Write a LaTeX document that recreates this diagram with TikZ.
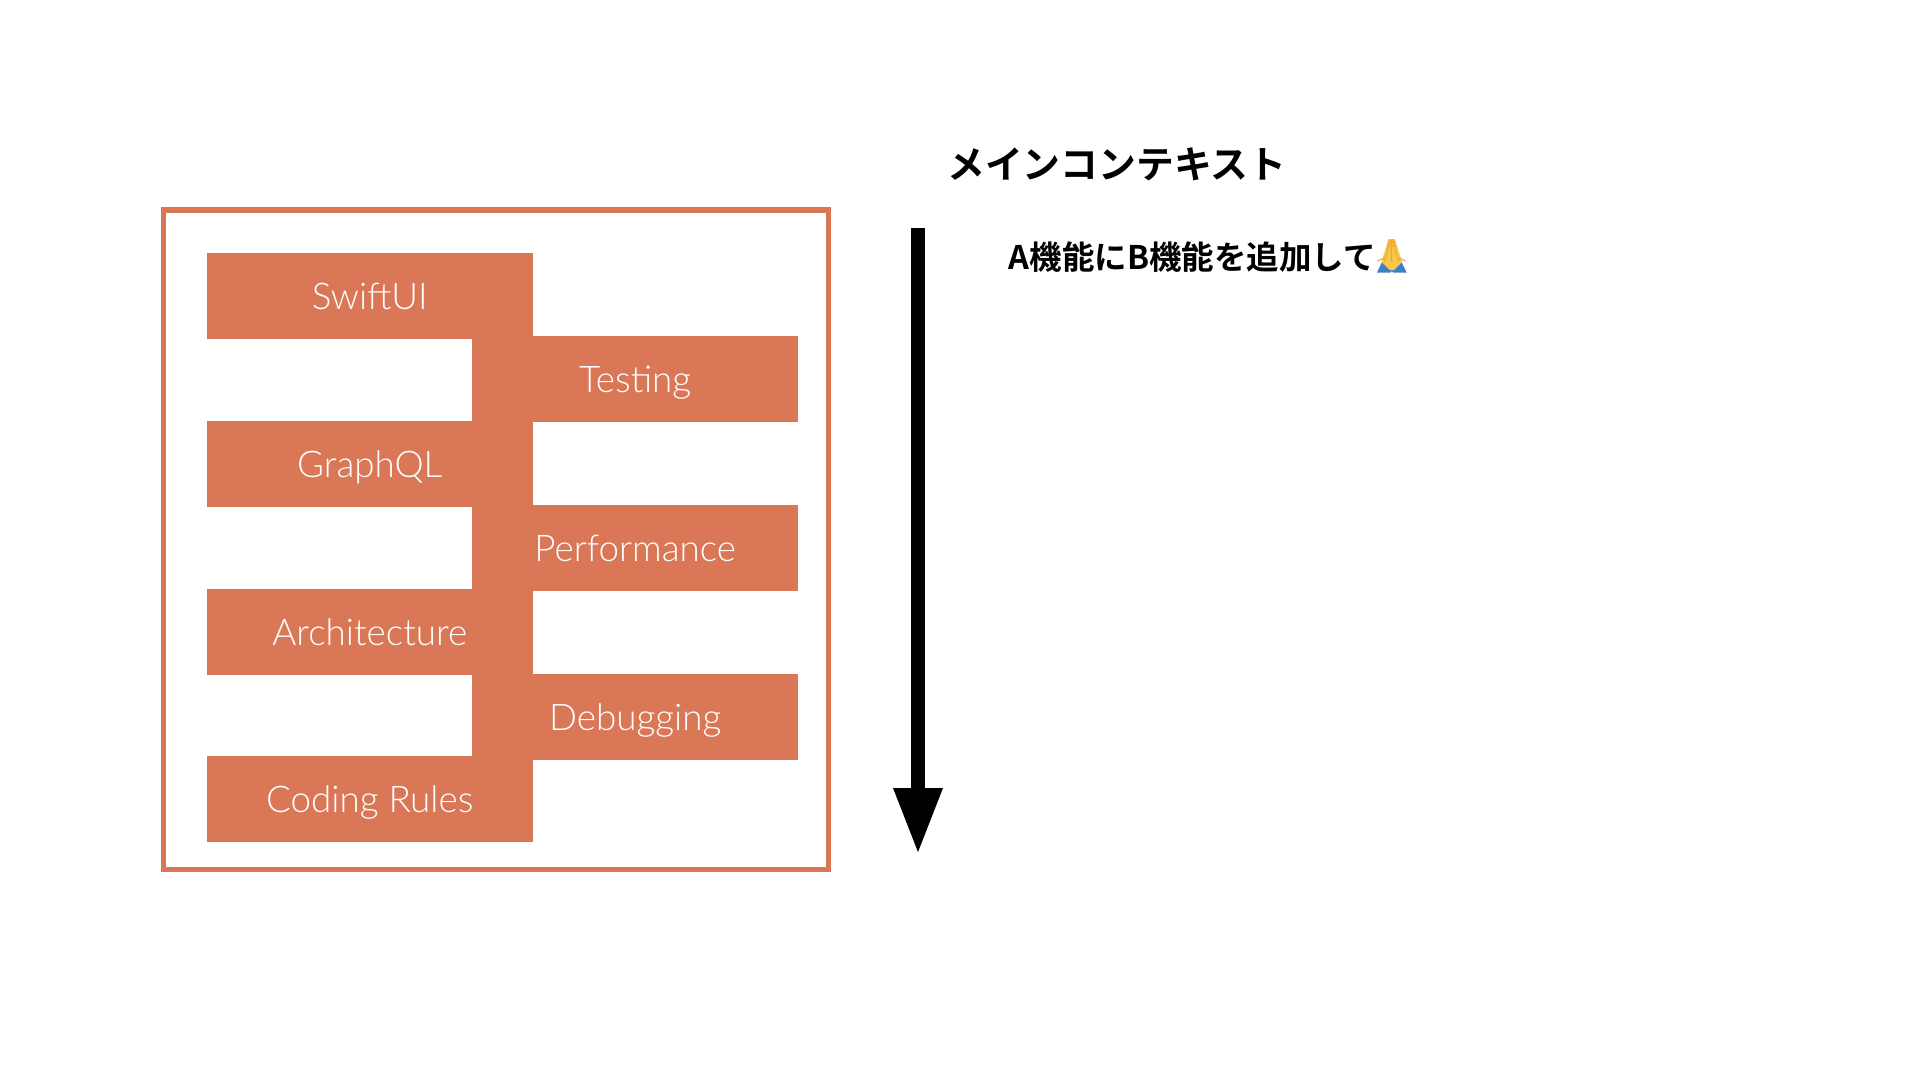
\documentclass[tikz,border=0pt]{standalone}
\usepackage{fontspec}
\setmainfont{Lato Light}
\newfontfamily\cjkbold{Noto Sans CJK JP Bold}
\newfontfamily\emojifont{Noto Emoji}
\definecolor{clay}{HTML}{D97757}
\definecolor{prayer}{HTML}{F9C84A}
\definecolor{prayerline}{HTML}{EFA63A}
\definecolor{sleeve}{HTML}{3F7FC4}
\tikzset{
  block/.style={fill=clay,text=white,inner sep=0pt,minimum width=326pt,minimum height=86pt,text height=27pt,text depth=0pt,font=\fontsize{36.8}{44}\selectfont},
  frame/.style={draw=clay,line width=5.5pt,fill=white,inner sep=0pt,minimum width=665pt,minimum height=659.5pt},
  heading/.style={inner sep=0pt,anchor=west,font=\cjkbold\fontsize{37.8}{45}\selectfont},
  note/.style={inner sep=0pt,anchor=west,font=\cjkbold\fontsize{32.5}{40}\selectfont}
}
\begin{document}
\begin{tikzpicture}[x=1pt,y=-1pt]
\useasboundingbox (0,0) rectangle (1920,1080);
\fill[white] (0,0) rectangle (1920,1080);
\node[frame] (box) at (496,539.8) {};
\node[block] (swift) at (369.7,295.5) {SwiftUI};
\node[block] (test) at (635.2,378.5) {Testing};
\node[block] (graph) at (369.7,463.5) {GraphQL};
\node[block] (perf) at (635.2,547.5) {Performance};
\node[block] (arch) at (369.7,631.5) {Architecture};
\node[block] (debug) at (635.2,717) {Debugging};
\node[block] (coding) at (369.7,799) {Coding Rules};
\coordinate (start) at (918,228);
\coordinate (neck) at (918,788);
\coordinate (tip) at (918,852);
\coordinate (headl) at (893,788);
\coordinate (headr) at (943,788);
\draw[line width=14pt] (start) -- (neck);
\fill (headl) -- (headr) -- (tip) -- cycle;
\node[heading] (title) at (947,164) {メインコンテキスト};
\node[note] (req) at (1008.5,257) {A機能にB機能を追加して};
% praying-hands emoji: coloured underlay, glyph on top
\fill[sleeve] (1377,272.5) -- (1383,260) -- (1391.7,269) -- (1400.5,260) -- (1406.7,272.5) -- (1393,272.5) -- (1391.7,271) -- (1390.5,272.5) -- cycle;
\fill[prayer] (1388.5,239) -- (1394.8,239) -- (1402,262) -- (1394,270) -- (1389.5,270) -- (1381.5,262) -- cycle;
\begin{scope}
\clip (1370,232) rectangle (1412,261);
\node[inner sep=0pt,text=prayerline,font=\emojifont\fontsize{30}{32}\selectfont] (pray) at (1391.7,255) {\symbol{"1F64F}};
\end{scope}
\end{tikzpicture}
\end{document}
